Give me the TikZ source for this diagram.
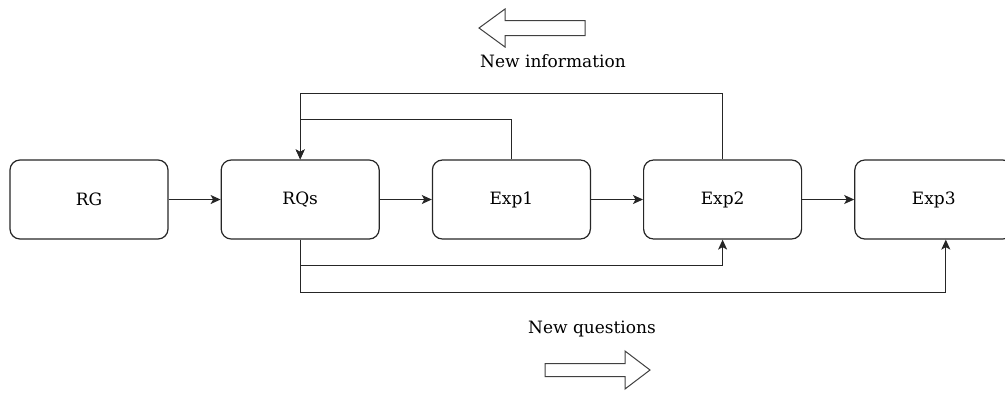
\documentclass[tikz,border=0pt]{standalone}
\usepackage{fontspec}
\setmainfont{DejaVu Serif}
\usepackage{tikz}
\usetikzlibrary{arrows.meta, positioning}

\begin{document}
\begin{tikzpicture}[
  x=1pt, y=-1pt,
  node distance=52pt,
  box/.style={rectangle, rounded corners=10pt, draw=black!85, line width=1.2pt,
              minimum width=158pt, minimum height=79pt, align=center,
              font=\fontsize{17}{20}\selectfont},
  arr/.style={-{Stealth[length=10pt, width=9pt, inset=2.5pt]}, draw=black!85, line width=1.2pt},
  hollow/.style={draw=black!75, fill=white, line width=1pt, line join=miter},
  lbl/.style={font=\fontsize{17}{20}\selectfont}
]
\useasboundingbox (0,0) rectangle (1005,392);

\node[box] (rg) at (89,199.5) {RG};
\node[box, right=of rg]   (rqs)  {RQs};
\node[box, right=of rqs]  (exp1) {Exp1};
\node[box, right=of exp1] (exp2) {Exp2};
\node[box, right=of exp2] (exp3) {Exp3};

\draw[arr] (rg)   -- (rqs);
\draw[arr] (rqs)  -- (exp1);
\draw[arr] (exp1) -- (exp2);
\draw[arr] (exp2) -- (exp3);

% feedback to the research questions
\draw[arr] (exp2.north) -- ++(0,-66) -| (rqs.north);
\draw[arr] (exp1.north) -- ++(0,-40) -| (rqs.north);

% questions fed forward
\draw[arr] (rqs.south) -- ++(0,26) -| (exp2.south);
\draw[arr] (rqs.south) -- ++(0,53) -| ([xshift=12pt]exp3.south);

% hollow arrows with their captions
\draw[hollow] (479,28) -- (505,9) -- (505,20.5) -- (585,20.5)
  -- (585,35.5) -- (505,35.5) -- (505,47) -- cycle;
\node[lbl] (info) at (553,61) {New information};

\node[lbl] (quest) at (592,329) {New questions};
\draw[hollow] (650,370) -- (625,351) -- (625,363.5) -- (545,363.5)
  -- (545,376.5) -- (625,376.5) -- (625,389) -- cycle;

\end{tikzpicture}
\end{document}
